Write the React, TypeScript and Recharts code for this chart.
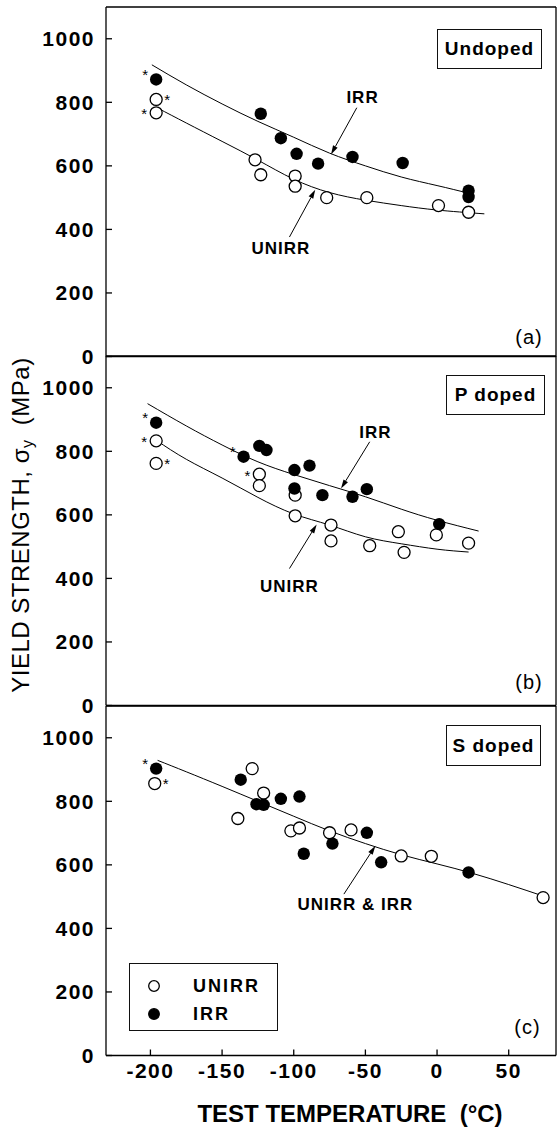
import React from "react";
import { ComposedChart, Line, Scatter, XAxis, YAxis, ReferenceLine } from "recharts";

const FONT = '"Liberation Sans", Arial, Helvetica, sans-serif';

const tempTicks = [-200, -150, -100, -50, 0, 50];
const strengthTicks = [0, 200, 400, 600, 800, 1000];

type Pt = { t: number; v: number; star?: "ul" | "l" | "r" };
type Fit = { t: number; v: number };
type Note = { text: string; t: number; v: number; from: [number, number]; to: [number, number] };

const fit = (rows: number[][]): Fit[] => rows.map(([t, v]) => ({ t, v }));

// (a) Undoped
const undopedUnirr: Pt[] = [
  { t: -196, v: 809, star: "r" },
  { t: -196, v: 767, star: "l" },
  { t: -127, v: 619 },
  { t: -123, v: 572 },
  { t: -99, v: 568 },
  { t: -99, v: 536 },
  { t: -77, v: 500 },
  { t: -49, v: 500 },
  { t: 1, v: 475 },
  { t: 22, v: 454 },
];
const undopedIrr: Pt[] = [
  { t: -196, v: 872, star: "ul" },
  { t: -123, v: 764 },
  { t: -109, v: 687 },
  { t: -98, v: 638 },
  { t: -83, v: 607 },
  { t: -59, v: 628 },
  { t: -24, v: 609 },
  { t: 22, v: 522 },
  { t: 22, v: 502 },
];
const undopedIrrFit = fit([[-199, 918], [-175, 855], [-150, 795], [-125, 740], [-100, 690], [-75, 640], [-50, 600], [-25, 565], [0, 538], [22, 514]]);
const undopedUnirrFit = fit([[-195, 782], [-175, 735], [-150, 677], [-125, 618], [-100, 558], [-75, 516], [-50, 492], [-25, 475], [0, 461], [33, 449]]);
const undopedNotes: Note[] = [
  { text: "IRR", t: -52, v: 815, from: [-56, 783], to: [-74, 636] },
  { text: "UNIRR", t: -109, v: 339, from: [-103, 376], to: [-85, 525] },
];

// (b) P doped
const pDopedUnirr: Pt[] = [
  { t: -196, v: 833, star: "l" },
  { t: -196, v: 762, star: "r" },
  { t: -124, v: 728, star: "l" },
  { t: -124, v: 692 },
  { t: -99, v: 662 },
  { t: -99, v: 597 },
  { t: -74, v: 568 },
  { t: -74, v: 518 },
  { t: -47, v: 503 },
  { t: -27, v: 547 },
  { t: -23, v: 482 },
  { t: -0.5, v: 537 },
  { t: 22, v: 511 },
];
const pDopedIrr: Pt[] = [
  { t: -196, v: 890, star: "ul" },
  { t: -135, v: 783, star: "ul" },
  { t: -124, v: 817 },
  { t: -119, v: 804 },
  { t: -99.5, v: 741 },
  { t: -89, v: 755 },
  { t: -99.5, v: 683 },
  { t: -80, v: 662 },
  { t: -59, v: 657 },
  { t: -49, v: 681 },
  { t: 1.5, v: 571 },
];
const pDopedIrrFit = fit([[-202, 950], [-175, 880], [-150, 820], [-125, 767], [-100, 727], [-75, 692], [-50, 657], [-25, 618], [0, 583], [29, 549]]);
const pDopedUnirrFit = fit([[-196, 835], [-175, 775], [-150, 716], [-125, 655], [-100, 603], [-75, 568], [-50, 531], [-25, 509], [0, 492], [22, 483]]);
const pDopedNotes: Note[] = [
  { text: "IRR", t: -43, v: 858, from: [-47, 830], to: [-67, 683] },
  { text: "UNIRR", t: -103, v: 374, from: [-103, 431], to: [-84, 570] },
];

// (c) S doped
const sDopedUnirr: Pt[] = [
  { t: -197, v: 856, star: "r" },
  { t: -139, v: 746 },
  { t: -129, v: 903 },
  { t: -121, v: 826 },
  { t: -102, v: 707 },
  { t: -96, v: 716 },
  { t: -75, v: 701 },
  { t: -60, v: 710 },
  { t: -25, v: 628 },
  { t: -4, v: 627 },
  { t: 74, v: 497 },
];
const sDopedIrr: Pt[] = [
  { t: -196, v: 903, star: "ul" },
  { t: -137, v: 868 },
  { t: -126, v: 791 },
  { t: -121, v: 789 },
  { t: -109, v: 808 },
  { t: -96, v: 815 },
  { t: -93, v: 635 },
  { t: -73, v: 667 },
  { t: -49, v: 701 },
  { t: -39, v: 608 },
  { t: 22, v: 576 },
];
const sDopedFit = fit([[-195, 929], [-175, 893], [-150, 847], [-125, 800], [-100, 753], [-75, 707], [-50, 667], [-25, 632], [0, 603], [25, 573], [50, 538], [74, 502]]);
const sDopedNotes: Note[] = [
  { text: "UNIRR & IRR", t: -57, v: 476, from: [-65, 508], to: [-43, 660] },
];

const PLOT_H = 349.5;
const T_DOMAIN: [number, number] = [-231, 83];
const V_DOMAIN: [number, number] = [0, 1100];
const line = { stroke: "#000", strokeWidth: 1.3 };
const tickStyle = { fill: "#000", fontSize: 21, fontWeight: 700, fontFamily: FONT };

const STAR_OFFSET: Record<string, [number, number]> = { ul: [-11, -8], l: [-12, -2], r: [11, -3] };

function Asterisk({ cx, cy, kind }: { cx: number; cy: number; kind?: string }) {
  if (!kind) return null;
  const [dx, dy] = STAR_OFFSET[kind];
  return (
    <text x={cx + dx} y={cy + dy + 8.5} fontSize={15} textAnchor="middle" fontFamily={FONT} fill="#000">
      *
    </text>
  );
}

const OpenDot = (p: any) => (
  <g>
    <circle cx={p.cx} cy={p.cy} r={6} fill="#fff" stroke="#000" strokeWidth={1.3} />
    <Asterisk cx={p.cx} cy={p.cy} kind={p.payload?.star} />
  </g>
);

const FilledDot = (p: any) => (
  <g>
    <circle cx={p.cx} cy={p.cy} r={6.2} fill="#000" />
    <Asterisk cx={p.cx} cy={p.cy} kind={p.payload?.star} />
  </g>
);

const NoteText = (p: any) => (
  <text
    x={p.cx}
    y={p.cy}
    textAnchor="middle"
    dominantBaseline="central"
    fontSize={17}
    fontWeight={700}
    fontFamily={FONT}
    letterSpacing={1}
    fill="#000"
  >
    {p.payload.text}
  </text>
);

const Arrow = (p: any) => {
  const { x1, y1, x2, y2 } = p;
  const a = Math.atan2(y2 - y1, x2 - x1);
  const L = 9;
  const W = 2.6;
  const bx = x2 - L * Math.cos(a);
  const by = y2 - L * Math.sin(a);
  const pts = `${x2},${y2} ${bx + W * Math.sin(a)},${by - W * Math.cos(a)} ${bx - W * Math.sin(a)},${by + W * Math.cos(a)}`;
  return (
    <g>
      <line x1={x1} y1={y1} x2={bx} y2={by} stroke="#000" strokeWidth={1} />
      <polygon points={pts} fill="#000" />
    </g>
  );
};

type PanelProps = {
  top: number;
  unirr: Pt[];
  irr: Pt[];
  fits: Fit[][];
  notes: Note[];
  xLabels?: boolean;
};

function Panel({ top, unirr, irr, fits, notes, xLabels }: PanelProps) {
  const bottomH = xLabels ? 75 : 1;
  return (
    <div style={{ position: "absolute", left: 0, top: top - 1 }}>
      <ComposedChart width={557} height={1 + PLOT_H + bottomH} margin={{ top: 0, right: 0, bottom: 0, left: 46 }}>
        <XAxis
          xAxisId="b"
          type="number"
          dataKey="t"
          domain={T_DOMAIN}
          ticks={tempTicks}
          interval={0}
          orientation="bottom"
          height={bottomH}
          tickSize={-6}
          tickMargin={14}
          tick={xLabels ? tickStyle : false}
          axisLine={line}
          tickLine={line}
        />
        <XAxis
          xAxisId="t"
          type="number"
          dataKey="t"
          domain={T_DOMAIN}
          ticks={tempTicks}
          interval={0}
          orientation="top"
          height={1}
          tickSize={-6}
          tick={false}
          axisLine={line}
          tickLine={line}
        />
        <YAxis
          yAxisId="l"
          type="number"
          domain={V_DOMAIN}
          ticks={strengthTicks}
          interval={0}
          width={60}
          tickSize={-6}
          tickMargin={17}
          tick={tickStyle}
          axisLine={line}
          tickLine={line}
        />
        <YAxis
          yAxisId="r"
          type="number"
          orientation="right"
          domain={V_DOMAIN}
          ticks={strengthTicks}
          interval={0}
          width={1}
          tickSize={-6}
          tick={false}
          axisLine={line}
          tickLine={line}
        />
        {fits.map((f, i) => (
          <Line
            key={i}
            xAxisId="b"
            yAxisId="l"
            data={f}
            dataKey="v"
            type="natural"
            stroke="#000"
            strokeWidth={1}
            dot={false}
            activeDot={false}
            isAnimationActive={false}
          />
        ))}
        {notes.map((n, i) => (
          <ReferenceLine
            key={i}
            xAxisId="b"
            yAxisId="l"
            segment={[
              { x: n.from[0], y: n.from[1] },
              { x: n.to[0], y: n.to[1] },
            ]}
            shape={Arrow}
          />
        ))}
        <Scatter xAxisId="b" yAxisId="l" data={unirr} dataKey="v" shape={OpenDot} isAnimationActive={false} />
        <Scatter xAxisId="b" yAxisId="l" data={irr} dataKey="v" shape={FilledDot} isAnimationActive={false} />
        <Scatter xAxisId="b" yAxisId="l" data={notes} dataKey="v" shape={NoteText} isAnimationActive={false} />
      </ComposedChart>
    </div>
  );
}

const boxLabel = (left: number, top: number, w: number, h: number): React.CSSProperties => ({
  position: "absolute",
  left,
  top,
  width: w,
  height: h,
  boxSizing: "border-box",
  border: "1px solid #111",
  display: "flex",
  alignItems: "center",
  justifyContent: "center",
  fontSize: 19,
  fontWeight: 700,
  letterSpacing: 1,
  background: "#fff",
});

const letter = (cx: number, cy: number): React.CSSProperties => ({
  position: "absolute",
  left: cx - 20,
  top: cy - 12,
  width: 40,
  height: 24,
  lineHeight: "24px",
  textAlign: "center",
  fontSize: 20,
  letterSpacing: 1,
});

export default function App() {
  return (
    <div
      style={{
        position: "absolute",
        left: 0,
        top: 0,
        width: 557,
        height: 1130,
        overflow: "hidden",
        background: "#fff",
        fontFamily: FONT,
        color: "#000",
      }}
    >
      <style>{`.recharts-cartesian-axis-tick-value { letter-spacing: 1.5px; }
.recharts-wrapper, .recharts-surface { overflow: visible !important; }`}</style>
      <Panel top={6.5} unirr={undopedUnirr} irr={undopedIrr} fits={[undopedIrrFit, undopedUnirrFit]} notes={undopedNotes} />
      <Panel top={356} unirr={pDopedUnirr} irr={pDopedIrr} fits={[pDopedIrrFit, pDopedUnirrFit]} notes={pDopedNotes} />
      <Panel top={705.5} unirr={sDopedUnirr} irr={sDopedIrr} fits={[sDopedFit]} notes={sDopedNotes} xLabels />

      <div style={boxLabel(437, 29, 105, 40)}>Undoped</div>
      <div style={boxLabel(446, 375, 99, 40)}>P doped</div>
      <div style={boxLabel(446, 725, 95, 41)}>S doped</div>

      <div style={letter(529, 337)}>(a)</div>
      <div style={letter(529, 682)}>(b)</div>
      <div style={letter(527.5, 1027)}>(c)</div>

      <div
        style={{
          position: "absolute",
          left: 129,
          top: 963,
          width: 149,
          height: 68,
          boxSizing: "border-box",
          border: "1px solid #111",
          background: "#fff",
          fontSize: 18,
          fontWeight: 700,
          letterSpacing: 2,
        }}
      >
        {[
          { name: "UNIRR", fill: "#fff" },
          { name: "IRR", fill: "#000" },
        ].map((s, i) => (
          <div key={s.name} style={{ position: "absolute", left: 0, top: 8 + i * 28, height: 28, display: "flex", alignItems: "center" }}>
            <svg width={50} height={28} style={{ display: "block" }}>
              <circle cx={24} cy={14} r={5.3} fill={s.fill} stroke="#000" strokeWidth={1.3} />
            </svg>
            <span style={{ marginLeft: 13 }}>{s.name}</span>
          </div>
        ))}
      </div>

      <div
        style={{
          position: "absolute",
          left: 21 - 200,
          top: 525 - 15,
          width: 400,
          height: 30,
          lineHeight: "30px",
          textAlign: "center",
          transform: "rotate(-90deg)",
          fontSize: 24,
          letterSpacing: 0.5,
          whiteSpace: "nowrap",
        }}
      >
        YIELD STRENGTH,&nbsp;σ<sub style={{ fontSize: 16, verticalAlign: -4 }}>y</sub>&nbsp;&nbsp;(MPa)
      </div>

      <div
        style={{
          position: "absolute",
          left: 350 - 200,
          top: 1114 - 15,
          width: 400,
          height: 30,
          lineHeight: "30px",
          textAlign: "center",
          fontSize: 24,
          fontWeight: 700,
          whiteSpace: "pre",
        }}
      >
        {"TEST TEMPERATURE  (°C)"}
      </div>
    </div>
  );
}
